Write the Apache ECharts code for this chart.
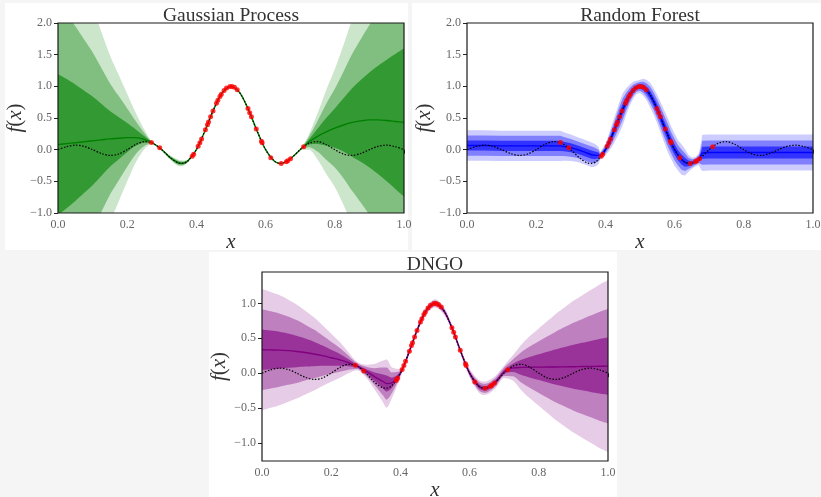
<!DOCTYPE html>
<html>
<head>
<meta charset="utf-8">
<script src="https://cdn.jsdelivr.net/npm/echarts@6/dist/echarts.min.js"></script>
<style>
  html, body { margin: 0; padding: 0; background: #f5f5f5; }
  .panel { position: absolute; background: #ffffff; }
  #c { position: absolute; left: 0; top: 0; width: 821px; height: 497px; }
</style>
</head>
<body>
<div class="panel" style="left:5px;top:3px;width:403px;height:247px"></div>
<div class="panel" style="left:412px;top:3px;width:409px;height:247px"></div>
<div class="panel" style="left:209px;top:252px;width:408px;height:245px"></div>
<div id="c"></div>
<script>
// Sample grid shared by the true objective and the GP / DNGO posteriors
const gridX = [0, 0.025, 0.05, 0.075, 0.1, 0.125, 0.15, 0.175, 0.2, 0.225, 0.25, 0.275, 0.3, 0.325, 0.35, 0.36, 0.375,
  0.4, 0.425, 0.45, 0.475, 0.5, 0.525, 0.55, 0.575, 0.6, 0.625, 0.64, 0.65, 0.675, 0.7, 0.725, 0.75, 0.775, 0.8,
  0.825, 0.85, 0.875, 0.9, 0.925, 0.95, 0.975, 1];

// True objective f(x) (dotted black curve)
const truthY = [0, 0.0474, 0.0707, 0.0530, 0, -0.0600, -0.0909, -0.0693, 0, 0.0818, 0.1273, 0.1000, 0, -0.1286, -0.2122, -0.2162, -0.1801,
  0, 0.3001, 0.6366, 0.9003, 1, 0.9003, 0.6366, 0.3001, 0, -0.1801, -0.2162, -0.2122, -0.1286, 0, 0.1000, 0.1273, 0.0818, 0,
  -0.0693, -0.0909, -0.0600, 0, 0.0530, 0.0707, 0.0474, 0];

// Observations (red dots)
const obsX = [0.270, 0.294, 0.388, 0.392, 0.405, 0.41, 0.415, 0.426, 0.432, 0.435, 0.441, 0.448, 0.458, 0.462, 0.468, 0.472, 0.48,
  0.487, 0.497, 0.503, 0.51, 0.518, 0.549, 0.554, 0.559, 0.573, 0.588, 0.59, 0.615, 0.645, 0.66, 0.664, 0.672, 0.71];
const obsY = [0.1120, 0.0290, -0.1046, -0.0733, 0.0524, 0.1093, 0.1700, 0.3136, 0.3952, 0.4363, 0.5181, 0.6109, 0.7341, 0.7789, 0.8399, 0.8759, 0.9355,
  0.9723, 0.9985, 0.9985, 0.9836, 0.9475, 0.6493, 0.5848, 0.5181, 0.3271, 0.1332, 0.1093, -0.1257, -0.2168, -0.1892, -0.1756, -0.1426, 0.0468];

// Gaussian process posterior mean and standard deviation
const gpMean = [0.08, 0.095, 0.11, 0.125, 0.14, 0.155, 0.17, 0.18, 0.19, 0.19, 0.16, 0.10, 0, -0.1286, -0.2122, -0.2162, -0.1801,
  0, 0.3001, 0.6366, 0.9003, 1, 0.9003, 0.6366, 0.3001, 0, -0.1801, -0.2162, -0.2122, -0.1286, 0, 0.12, 0.21, 0.28, 0.34,
  0.39, 0.43, 0.455, 0.47, 0.47, 0.46, 0.445, 0.43];
const gpStd = [1.11, 1.02, 0.92, 0.81, 0.70, 0.57, 0.44, 0.335, 0.23, 0.13, 0.05, 0, 0.004, 0.012, 0.016, 0.015, 0.008,
  0, 0, 0, 0, 0, 0, 0, 0, 0, 0, 0, 0, 0, 0, 0.04, 0.12, 0.22, 0.31,
  0.42, 0.54, 0.645, 0.75, 0.855, 0.96, 1.065, 1.17];

// Random forest prediction (own, finer grid)
const rfX = [0, 0.05, 0.1, 0.15, 0.2, 0.25, 0.27, 0.28, 0.3, 0.32, 0.34, 0.36, 0.37, 0.38, 0.385, 0.39,
  0.40, 0.41, 0.42, 0.43, 0.44, 0.45, 0.46, 0.47, 0.48, 0.49, 0.50, 0.51, 0.52, 0.53, 0.54, 0.55, 0.56, 0.57, 0.58, 0.59,
  0.60, 0.61, 0.62, 0.63, 0.64, 0.65, 0.66, 0.67, 0.675, 0.68, 0.7, 0.75, 0.8, 0.85, 0.9, 0.95, 1.0];
const rfMean = [0.065, 0.065, 0.06, 0.06, 0.06, 0.06, 0.06, 0.05, 0.03, 0.0, -0.04, -0.08, -0.09, -0.09, -0.1, -0.09,
  0, 0.1093, 0.2339, 0.3679, 0.5046, 0.6366, 0.7568, 0.8584, 0.9355, 0.9836, 1, 0.9836, 0.9355, 0.8584, 0.7568, 0.6366, 0.5046, 0.3679, 0.2339, 0.1093,
  0, -0.0894, -0.1559, -0.1981, -0.2162, -0.2122, -0.1892, -0.1515, -0.12, -0.05, -0.045, -0.045, -0.045, -0.045, -0.045, -0.045, -0.045];
const rfStd = [0.08, 0.08, 0.08, 0.08, 0.08, 0.08, 0.08, 0.075, 0.07, 0.065, 0.065, 0.065, 0.06, 0.045, 0.02, 0.01,
  0.03, 0.045, 0.06, 0.07, 0.08, 0.085, 0.07, 0.055, 0.045, 0.035, 0.035, 0.045, 0.055, 0.065, 0.07, 0.075, 0.08, 0.085, 0.09, 0.085,
  0.085, 0.08, 0.08, 0.07, 0.045, 0.03, 0.025, 0.03, 0.06, 0.095, 0.095, 0.095, 0.095, 0.095, 0.095, 0.095, 0.095];

// DNGO posterior mean and standard deviation
const dngoMean = [0.335, 0.333, 0.33, 0.322, 0.31, 0.295, 0.275, 0.25, 0.22, 0.19, 0.15, 0.10, 0.03, -0.05, -0.12, -0.15, -0.14,
  0, 0.3001, 0.6366, 0.9003, 1, 0.9003, 0.6366, 0.3001, 0, -0.1801, -0.2162, -0.2122, -0.1286, 0.02, 0.075, 0.082, 0.085, 0.086,
  0.087, 0.088, 0.09, 0.092, 0.094, 0.096, 0.098, 0.1];
const dngoStd = [0.29, 0.277, 0.263, 0.245, 0.225, 0.2, 0.175, 0.145, 0.115, 0.085, 0.05, 0.02, 0.03, 0.06, 0.1, 0.115, 0.075,
  0.02, 0.015, 0.015, 0.018, 0.02, 0.018, 0.015, 0.015, 0.02, 0.03, 0.032, 0.032, 0.03, 0.03, 0.06, 0.11, 0.15, 0.185,
  0.22, 0.255, 0.285, 0.315, 0.34, 0.365, 0.39, 0.41];

const xTicks = [0, 0.2, 0.4, 0.6, 0.8, 1.0];
const dngoYTicks = [-1, -0.5, 0, 0.5, 1];

const SERIF = '"Liberation Serif", "DejaVu Serif", serif';

const panels = [
  { title: 'Gaussian Process', x: gridX, mean: gpMean, sd: gpStd, smooth: 0.3,
    grid: { left: 58, top: 23, width: 346, height: 190 }, yMin: -1, yMax: 2,
    fills: ['#cce6cc', '#80bf80', '#339933'], line: '#008000' },
  { title: 'Random Forest', x: rfX, mean: rfMean, sd: rfStd, smooth: false,
    grid: { left: 467, top: 23, width: 346, height: 190 }, yMin: -1, yMax: 2,
    fills: ['#ccccff', '#8080ff', '#3333ff'], line: '#0000ff' },
  { title: 'DNGO', x: gridX, mean: dngoMean, sd: dngoStd, smooth: 0.3,
    grid: { left: 262, top: 272, width: 346, height: 189 }, yMin: -1.26, yMax: 1.45, yTicks: dngoYTicks,
    fills: ['#e6cce6', '#bf80bf', '#993399'], line: '#800080' }
];

const fmt = v => (v < -1e-9 ? '\u2212' : '') + Math.abs(v).toFixed(1);

const grids = [], xAxes = [], yAxes = [], series = [], titles = [];
panels.forEach((p, i) => {
  grids.push(Object.assign({ show: true, borderColor: '#1a1a1a', borderWidth: 1.2,
    backgroundColor: 'rgba(0,0,0,0)', z: 10, containLabel: false, outerBoundsMode: 'none' }, p.grid));
  titles.push({
    text: p.title, left: p.grid.left + p.grid.width / 2 - 5, top: p.grid.top - 22, textAlign: 'center',
    textStyle: { fontFamily: SERIF, fontSize: 19.5, fontWeight: 'normal', color: '#333' }
  });
  xAxes.push({
    gridIndex: i, type: 'value', min: 0, max: 1, interval: 0.2,
    axisLine: { show: false },
    axisTick: { show: true, length: 4, lineStyle: { color: '#222', width: 1 }, customValues: xTicks },
    axisLabel: { color: '#666', fontFamily: SERIF, fontSize: 12, margin: 6, formatter: fmt, customValues: xTicks },
    splitLine: { show: false },
    name: 'x', nameLocation: 'middle', nameGap: 18,
    nameTextStyle: { fontFamily: SERIF, fontStyle: 'italic', fontSize: 21, color: '#333' }
  });
  const yAx = {
    gridIndex: i, type: 'value', min: p.yMin, max: p.yMax,
    axisLine: { show: false },
    axisTick: { show: true, length: 4, lineStyle: { color: '#222', width: 1 } },
    axisLabel: { color: '#666', fontFamily: SERIF, fontSize: 12, margin: 6, formatter: fmt },
    splitLine: { show: false },
    name: '{i|f}{n|(}{i|x}{n|)}', nameLocation: 'middle', nameGap: 29, nameRotate: 90,
    nameTextStyle: { rich: {
      i: { fontFamily: SERIF, fontStyle: 'italic', fontSize: 21, color: '#333' },
      n: { fontFamily: SERIF, fontSize: 21, color: '#333' } } }
  };
  if (p.yTicks) {
    yAx.axisTick.customValues = p.yTicks;
    yAx.axisLabel.customValues = p.yTicks;
  } else {
    yAx.interval = 0.5;
  }
  yAxes.push(yAx);

  // Nested uncertainty bands, painted as areas down to the axis floor:
  // each band edge is filled with the colour of the region just below it,
  // from the top edge of the widest band down to the bottom edge (panel white).
  const edges = [
    [3, p.fills[0]], [2, p.fills[1]], [1, p.fills[2]],
    [-1, p.fills[1]], [-2, p.fills[0]], [-3, '#ffffff']
  ];
  edges.forEach(([k, color]) => {
    series.push({
      type: 'line', xAxisIndex: i, yAxisIndex: i, silent: true,
      symbol: 'none', smooth: p.smooth, lineStyle: { width: 0, opacity: 0 }, z: 2,
      areaStyle: { color: color, opacity: 1, origin: 'start' },
      data: p.x.map((x, n) => [x, p.mean[n] + k * p.sd[n]])
    });
  });
  // Predictive mean
  series.push({
    type: 'line', xAxisIndex: i, yAxisIndex: i, silent: true, symbol: 'none', smooth: p.smooth, z: 3,
    lineStyle: { color: p.line, width: 1.4 },
    data: p.x.map((x, n) => [x, p.mean[n]])
  });
  // True objective
  series.push({
    type: 'line', xAxisIndex: i, yAxisIndex: i, silent: true, symbol: 'none', smooth: 0.3, z: 4,
    lineStyle: { color: '#000', width: 1.2, type: [1.5, 1.6] },
    data: gridX.map((x, n) => [x, truthY[n]])
  });
  // Observations
  series.push({
    type: 'scatter', xAxisIndex: i, yAxisIndex: i, silent: true, symbolSize: 5, z: 5,
    itemStyle: { color: '#ff0000' },
    data: obsX.map((x, n) => [x, obsY[n]])
  });
});

const chart = echarts.init(document.getElementById('c'), null, { renderer: 'canvas' });
chart.setOption({
  animation: false,
  backgroundColor: 'rgba(0,0,0,0)',
  title: titles,
  grid: grids,
  xAxis: xAxes,
  yAxis: yAxes,
  series: series
});
</script>
</body>
</html>
